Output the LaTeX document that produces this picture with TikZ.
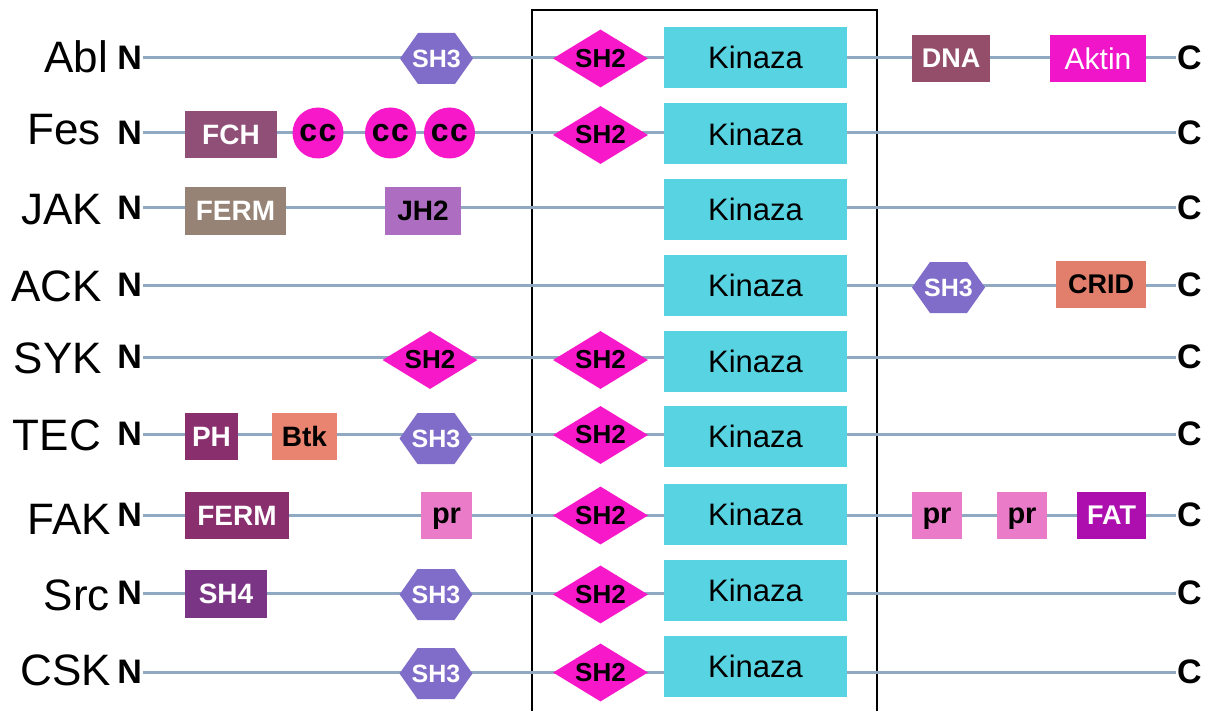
\documentclass[tikz,border=0pt]{standalone}
\usepackage{fontspec}
\setmainfont{Liberation Sans}
\usetikzlibrary{shapes.geometric}

\definecolor{chaincol}{HTML}{8FA9C2}
\definecolor{kincol}{HTML}{57D3E2}
\definecolor{shtwocol}{HTML}{F718C9}
\definecolor{shthreecol}{HTML}{806CC9}
\definecolor{fchcol}{HTML}{8F4F77}
\definecolor{jakfermcol}{HTML}{978376}
\definecolor{jhcol}{HTML}{AD6DC1}
\definecolor{dnacol}{HTML}{944E6A}
\definecolor{aktincol}{HTML}{F015C8}
\definecolor{cridcol}{HTML}{E27F6C}
\definecolor{phcol}{HTML}{8A2F6D}
\definecolor{btkcol}{HTML}{E8846F}
\definecolor{prcol}{HTML}{EA7BC8}
\definecolor{fatcol}{HTML}{AD0FAE}
\definecolor{shfourcol}{HTML}{7B3585}

\newcommand\fsz[1]{\fontsize{#1}{#1}\selectfont}

\tikzset{
  protname/.style={inner sep=0pt, font=\fsz{44}},
  term/.style={inner sep=0pt, outer sep=1pt, font=\bfseries\fsz{34}},
  chain/.style={draw=chaincol, line width=3pt},
  frame/.style={draw=black, line width=2pt},
  kinase/.style={rectangle, fill=kincol, minimum width=183, minimum height=61,
    inner sep=0pt, font=\fsz{31}},
  dombox/.style 2 args={rectangle, fill=#1, minimum width=#2, minimum height=47,
    inner sep=0pt, font=\bfseries\fsz{27}, text=white},
  darktext/.style={text=black},
  prtext/.style={text=black, text depth=0pt, font=\bfseries\fsz{29}},
  shtwo/.style={diamond, aspect=1.6, fill=shtwocol, minimum width=95,
    minimum height=58, inner sep=0pt, font=\bfseries\fsz{26}},
  shthree/.style={rectangle, minimum width=73, minimum height=51, inner sep=0pt,
    font=\bfseries\fsz{25}, text=white,
    path picture={\fill[shthreecol] (path picture bounding box.west)
      -- ([xshift=-18.5pt]path picture bounding box.north)
      -- ([xshift=18.5pt]path picture bounding box.north)
      -- (path picture bounding box.east)
      -- ([xshift=18.5pt]path picture bounding box.south)
      -- ([xshift=-18.5pt]path picture bounding box.south) -- cycle;}},
  coil/.style={circle, fill=shtwocol, minimum size=51, inner sep=0pt,
    font=\bfseries\fsz{32}},
}

\begin{document}
\begin{tikzpicture}[x=1pt, y=-1pt]
\useasboundingbox (0,0) rectangle (1209,711);

% frame around the SH2-kinase core
\draw[frame] (532,10) rectangle (877,730);

% protein chains: name, N-terminus, C-terminus and backbone
\foreach \id/\lab/\ly/\lx/\ty in {
    abl/Abl/58/108/57, fes/Fes/133/101/130, jak/JAK/208/102/210,
    ack/ACK/285/102/286, syk/SYK/357/102/358, tec/TEC/434/101/435,
    fak/FAK/515/111/519, src/Src/593/110/595, csk/CSK/672/111/670} {
  \node[protname, anchor=east] (\id-name) at (\lx,\ty) {\lab};
  \node[term, anchor=east] (\id-N) at (143,\ly) {N};
  \node[term, anchor=west] (\id-C) at (1176,\ly) {C};
  \draw[chain] (\id-N) -- (\id-C);
}

% kinase domains
\foreach \id/\ky in {abl/57.5, fes/134, jak/209.5, ack/285.5, syk/361.5,
    tec/436.5, fak/514, src/590, csk/666} {
  \node[kinase] (\id-kin) at (755.5,\ky) {Kinaza};
}

% SH2 domains next to the kinase
\foreach \id/\sy in {abl/58.5, fes/135, syk/360, tec/435, fak/515.5,
    src/594.5, csk/672.5} {
  \node[shtwo] (\id-shtwo) at (600.5,\sy) {SH2};
}

% Abl
\node[shthree] (abl-shthree) at (436.5,58.5) {SH3};
\node[dombox={dnacol}{78}] (abl-dna) at (951,58.5) {DNA};
\node[dombox={aktincol}{96}, font=\fsz{30}] (abl-aktin) at (1098,58.5) {Aktin};

% Fes
\node[dombox={fchcol}{92}, font=\bfseries\fsz{28}] (fes-fch) at (231,134.5) {FCH};
\node[coil] (fes-cca) at (318,133) {c\kern1.5pt c};
\node[coil] (fes-ccb) at (390.5,133) {c\kern1.5pt c};
\node[coil] (fes-ccc) at (449.5,133) {c\kern1.5pt c};

% JAK
\node[dombox={jakfermcol}{101}, minimum height=48, font=\bfseries\fsz{28}] (jak-ferm) at (235.5,211) {FERM};
\node[dombox={jhcol}{76}, minimum height=48, darktext, font=\bfseries\fsz{28}] (jak-jh) at (423,211) {JH2};

% ACK
\node[shthree] (ack-shthree) at (948.5,287.5) {SH3};
\node[dombox={cridcol}{90}, darktext] (ack-crid) at (1101,284.5) {CRID};

% SYK
\node[shtwo] (syk-shtwoa) at (430,360) {SH2};

% TEC
\node[dombox={phcol}{53}, font=\bfseries\fsz{28}] (tec-ph) at (211.5,436.5) {PH};
\node[dombox={btkcol}{65}, darktext, font=\bfseries\fsz{28}] (tec-btk) at (304.5,436.5) {Btk};
\node[shthree] (tec-shthree) at (436,438.5) {SH3};

% FAK
\node[dombox={phcol}{104}, font=\bfseries\fsz{28}] (fak-ferm) at (237,515.5) {FERM};
\node[dombox={prcol}{51}, prtext] (fak-pra) at (446.5,515.5) {pr};
\node[dombox={prcol}{50}, prtext] (fak-prb) at (937,515.5) {pr};
\node[dombox={prcol}{50}, prtext] (fak-prc) at (1022,515.5) {pr};
\node[dombox={fatcol}{69}] (fak-fat) at (1111.5,515.5) {FAT};

% Src
\node[dombox={shfourcol}{82}, minimum height=48, font=\bfseries\fsz{28}] (src-shfour) at (226,594) {SH4};
\node[shthree] (src-shthree) at (436,594.5) {SH3};

% CSK
\node[shthree] (csk-shthree) at (436,673.5) {SH3};
\end{tikzpicture}
\end{document}
